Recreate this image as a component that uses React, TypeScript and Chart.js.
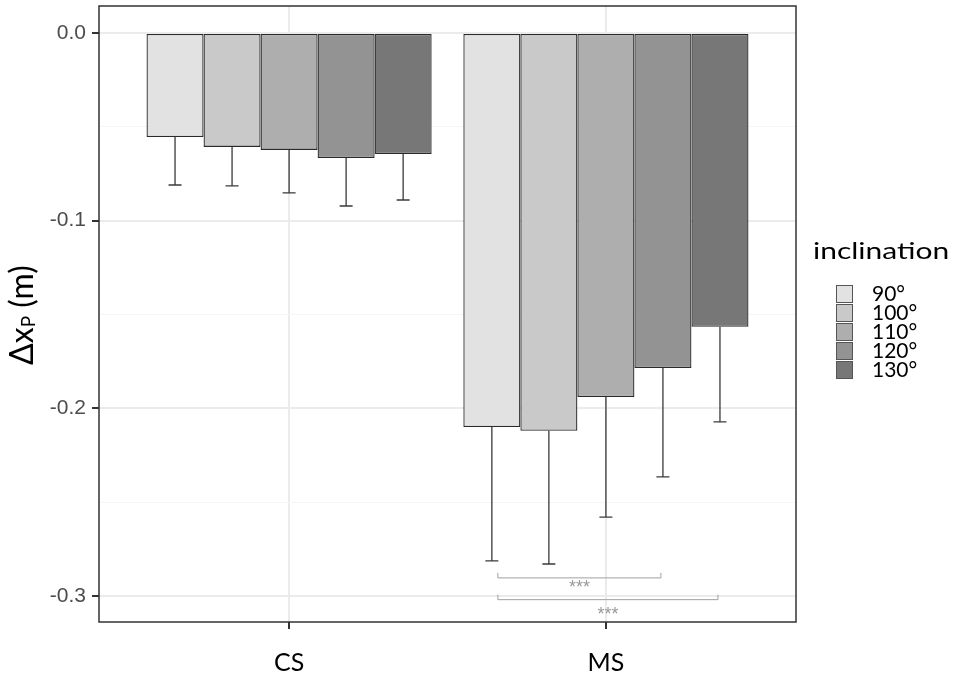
import { useEffect, useRef } from "react"
import { Chart, registerables, type Plugin } from "chart.js"

Chart.register(...registerables)

// groups on the x axis, inclination = fill levels
const groups = ["CS", "MS"]
const inclinations = ["90°", "100°", "110°", "120°", "130°"]
const fills = ["#e2e2e2", "#c9c9c9", "#aeaeae", "#939393", "#777777"]

// mean Δx_P (m) per inclination
const csMeans = [-0.0554, -0.0607, -0.0623, -0.0666, -0.0645]
const msMeans = [-0.21, -0.212, -0.194, -0.1785, -0.1566]
// lower end of the error bars
const csLows = [-0.081, -0.0815, -0.0852, -0.0922, -0.089]
const msLows = [-0.2813, -0.283, -0.258, -0.2366, -0.2072]

// significance brackets inside MS (dataset index from -> to)
const bracketFrom = [0, 0]
const bracketTo = [3, 4]
const bracketY = [-0.2904, -0.302]
const bracketTextY = [-0.2935, -0.3078]
const bracketLabels = ["***", "***"]

const isMajor = (v: number) => Math.abs(Math.round(v * 10) - v * 10) < 1e-6

const decorations: Plugin<"bar"> = {
  id: "decorations",
  afterDatasetsDraw(chart) {
    const ctx = chart.ctx
    const y = chart.scales.y
    // error bars
    ctx.save()
    ctx.strokeStyle = "#3a3a3a"
    ctx.lineWidth = 1.3
    chart.data.datasets.forEach((_, i) => {
      const meta = chart.getDatasetMeta(i)
      const lows = [csLows[i], msLows[i]]
      const means = [csMeans[i], msMeans[i]]
      meta.data.forEach((bar, j) => {
        const x = bar.x
        const y0 = y.getPixelForValue(means[j])
        const y1 = y.getPixelForValue(lows[j])
        ctx.beginPath()
        ctx.moveTo(x, y0)
        ctx.lineTo(x, y1)
        ctx.moveTo(x - 6.5, y1)
        ctx.lineTo(x + 6.5, y1)
        ctx.stroke()
      })
    })
    // brackets
    ctx.strokeStyle = "#a0a0a0"
    ctx.fillStyle = "#999"
    ctx.lineWidth = 1
    ctx.font = "18px 'Liberation Sans'"
    ctx.textAlign = "center"
    ctx.textBaseline = "middle"
    bracketLabels.forEach((label, k) => {
      const xa = chart.getDatasetMeta(bracketFrom[k]).data[1].x + 6
      const xb = chart.getDatasetMeta(bracketTo[k]).data[1].x - 2
      const yb = y.getPixelForValue(bracketY[k])
      ctx.beginPath()
      ctx.moveTo(xa, yb - 5)
      ctx.lineTo(xa, yb)
      ctx.lineTo(xb, yb)
      ctx.lineTo(xb, yb - 5)
      ctx.stroke()
      ctx.fillText(label, (xa + xb) / 2, y.getPixelForValue(bracketTextY[k]) + 4)
    })
    ctx.restore()
  },
  afterDraw(chart) {
    const ctx = chart.ctx
    const a = chart.chartArea
    ctx.save()
    // panel border
    ctx.strokeStyle = "#333"
    ctx.lineWidth = 1.5
    ctx.strokeRect(a.left, a.top, a.right - a.left, a.bottom - a.top)

    // y axis title with subscript
    ctx.fillStyle = "#000"
    ctx.translate(33, 315)
    ctx.rotate(-Math.PI / 2)
    ctx.textBaseline = "alphabetic"
    ctx.textAlign = "left"
    const big = "32px Lato"
    const small = "19px Lato"
    ctx.font = big
    const w1 = ctx.measureText("Δx").width
    const w3 = ctx.measureText(" (m)").width
    ctx.font = small
    const w2 = ctx.measureText("P").width
    let x = -(w1 + w2 + w3) / 2
    ctx.font = big
    ctx.fillText("Δx", x, 0)
    x += w1
    ctx.font = small
    ctx.fillText("P", x, 2)
    x += w2
    ctx.font = big
    ctx.fillText(" (m)", x, 0)
    ctx.restore()

    // legend
    ctx.save()
    ctx.fillStyle = "#000"
    ctx.textBaseline = "middle"
    ctx.textAlign = "left"
    ctx.save()
    ctx.translate(813, 251)
    ctx.scale(1.25, 1)
    ctx.font = "24px Lato"
    ctx.fillText("inclination", 0, 0)
    ctx.restore()
    ctx.font = "21px Lato"
    inclinations.forEach((lab, i) => {
      const top = 285 + i * 19
      ctx.fillStyle = fills[i]
      ctx.fillRect(836, top, 17, 18)
      ctx.strokeStyle = "#555"
      ctx.lineWidth = 1
      ctx.strokeRect(836.5, top + 0.5, 16, 17)
      ctx.fillStyle = "#000"
      ctx.fillText(lab, 872, top + 9)
    })
    ctx.restore()
  },
}

export default function App() {
  const canvasRef = useRef<HTMLCanvasElement>(null)

  useEffect(() => {
    if (!canvasRef.current) return
    const chart = new Chart(canvasRef.current, {
      type: "bar",
      data: {
        datasets: inclinations.map((lab, i) => ({
          label: lab,
          data: [
            { x: 1, y: csMeans[i] },
            { x: 2, y: msMeans[i] },
          ],
          backgroundColor: fills[i],
          borderColor: "#2a2a2a",
          borderWidth: 1.3,
          borderSkipped: false,
          categoryPercentage: 0.9,
          barPercentage: 1,
        })),
      },
      options: {
        animation: false,
        responsive: false,
        layout: { padding: { top: 6, right: 161, left: 0, bottom: 0 } },
        plugins: { legend: { display: false }, tooltip: { enabled: false } },
        scales: {
          x: {
            type: "linear",
            min: 0.4,
            max: 2.6,
            offset: false,
            border: { display: false },
            grid: { offset: false, color: "#ebebeb", lineWidth: 2, tickLength: 7, tickColor: "#333", tickWidth: 2 },
            ticks: {
              stepSize: 1,
              includeBounds: false,
              padding: 19,
              color: "#000",
              font: { family: "Lato", size: 25 },
              callback: (v) => (v === 1 ? groups[0] : v === 2 ? groups[1] : ""),
            },
            afterFit: (s) => {
              s.height = 56
              s.paddingLeft = 0
              s.paddingRight = 0
            },
          },
          y: {
            min: -0.3139,
            max: 0.0144,
            border: { display: false },
            grid: {
              color: (c) => (isMajor(c.tick.value) ? "#ebebeb" : "#f5f5f5"),
              lineWidth: (c) => (isMajor(c.tick.value) ? 2 : 1),
              tickColor: (c) => (isMajor(c.tick.value) ? "#333" : "rgba(0,0,0,0)"),
              tickWidth: 2,
              tickLength: 7,
            },
            ticks: {
              stepSize: 0.05,
              includeBounds: false,
              padding: 6,
              color: "#4d4d4d",
              font: { family: "'Liberation Sans'", size: 21 },
              callback: (v) => {
                const n = Number(v)
                if (!isMajor(n)) return ""
                const s = n.toFixed(1)
                return s === "-0.0" ? "0.0" : s
              },
            },
            afterFit: (s) => {
              s.width = 99
              s.paddingTop = 0
              s.paddingBottom = 0
            },
          },
        },
      },
      plugins: [decorations],
    })
    return () => chart.destroy()
  }, [])

  return (
    <div style={{ position: "absolute", left: 0, top: 0, width: 957, height: 678, background: "#fff" }}>
      <canvas ref={canvasRef} width={957} height={678} />
    </div>
  )
}
